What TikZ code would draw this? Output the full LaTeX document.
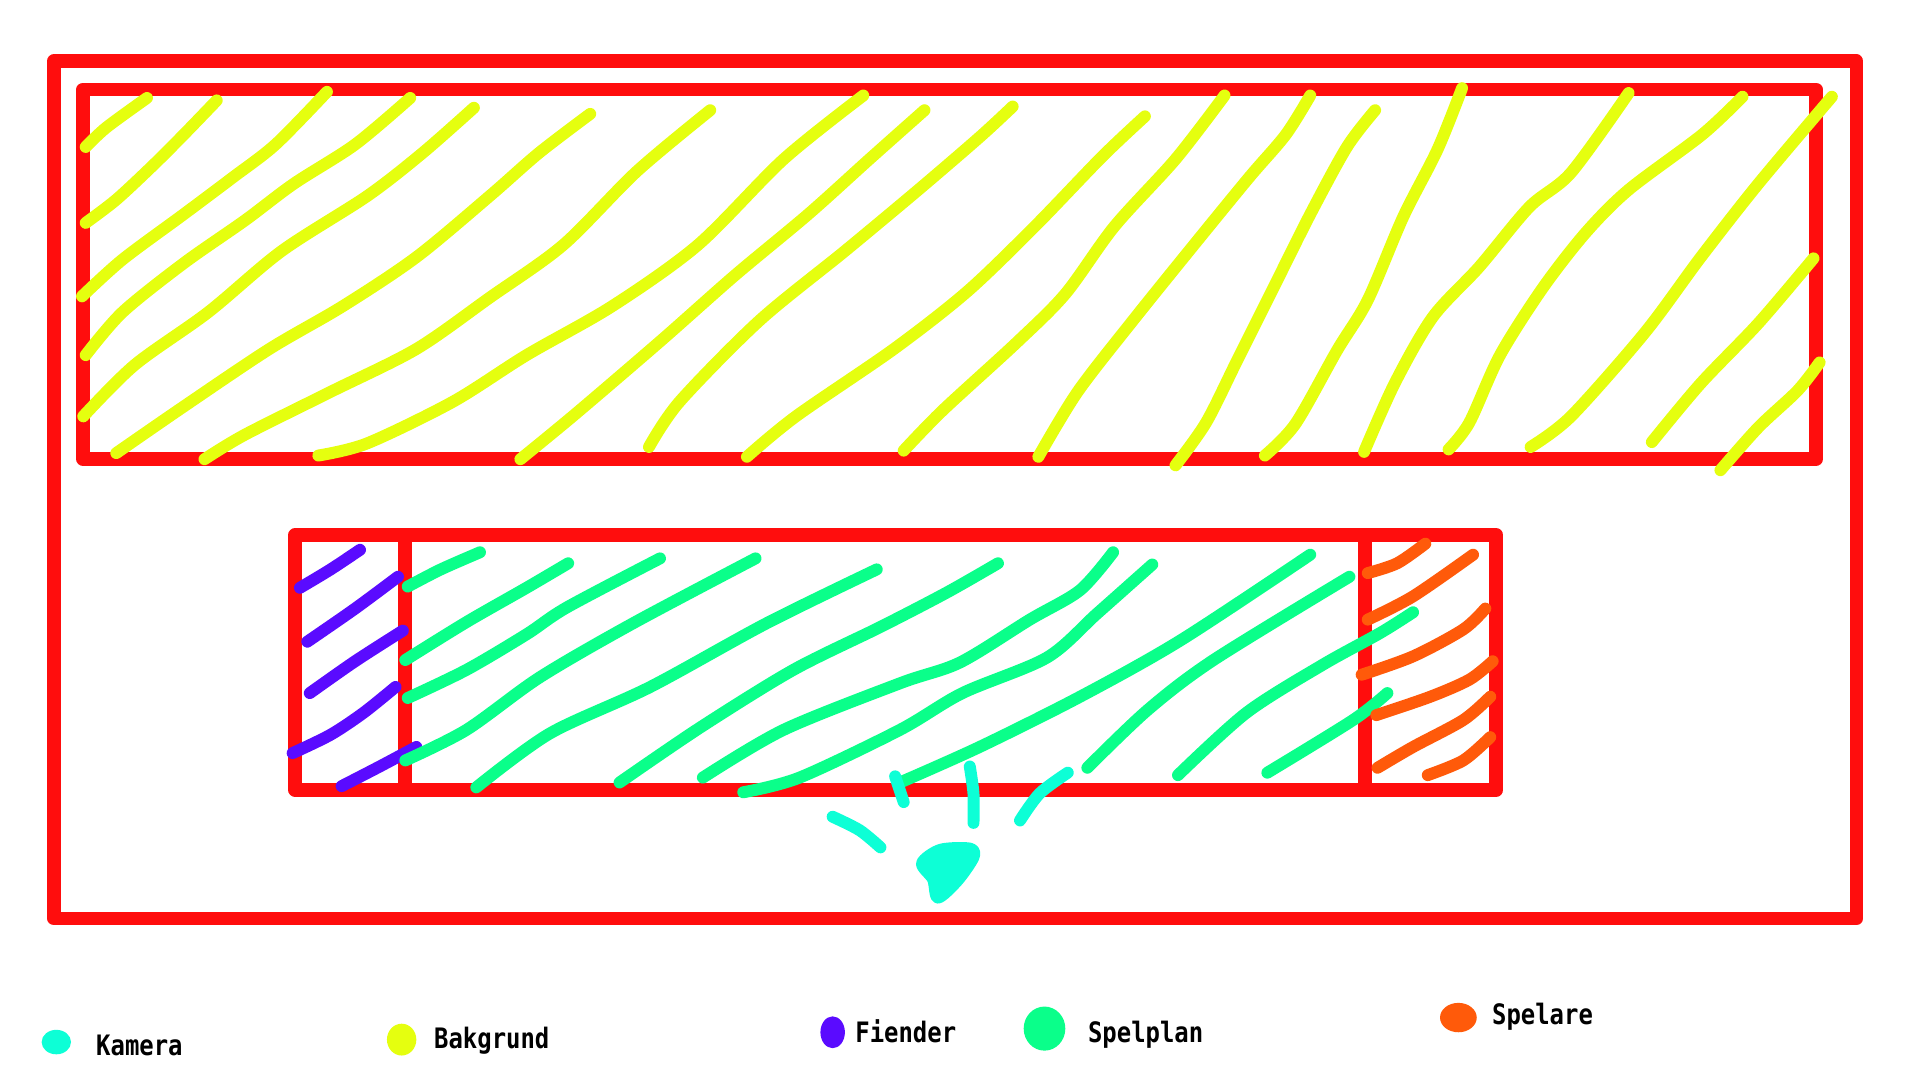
\documentclass[tikz,border=0pt]{standalone}
\usepackage{fontspec}
\newfontfamily\legendfont[FakeStretch=0.85]{DejaVu Sans Mono}
\usetikzlibrary{positioning}

\definecolor{skissRed}{HTML}{FF0D0D}
\definecolor{bgYellow}{HTML}{E5FF0F}
\definecolor{camCyan}{HTML}{0DFFD6}
\definecolor{boardGreen}{HTML}{0AFF8A}
\definecolor{foePurple}{HTML}{5A0BFF}
\definecolor{playerOrange}{HTML}{FF5A0A}

\begin{document}
\begin{tikzpicture}[x=0.012245cm, y=-0.012245cm,
  frame/.style={draw=skissRed, line width=3.9pt, line cap=round, line join=round},
  hatch/.style={line width=3.4pt, line cap=round, line join=round},
  legend/.style={anchor=base west, inner sep=0pt,
    font=\legendfont\bfseries\fontsize{8pt}{10pt}\selectfont}]
  \useasboundingbox (0,0) rectangle (1568,882);

  % frames
  \draw [frame] (44,50) rectangle (1516,750);
  \draw [frame] (68,73) rectangle (1483,375);
  \draw [frame] (241,437) rectangle (1222,645);
  \draw [frame] (331,440) -- (331,645);
  \draw [frame] (1115,440) -- (1115,645);

  % bakgrund
  \begin{scope}[hatch, draw=bgYellow]
    \draw plot[smooth] coordinates {(70,120) (87,104) (120,80)};
    \draw plot[smooth] coordinates {(70,182) (95,163) (125,135) (150,110) (177,82)};
    \draw plot[smooth] coordinates {(67,242) (100,212) (150,175) (190,145) (225,118) (267,75)};
    \draw plot[smooth] coordinates {(70,290) (100,255) (150,215) (200,180) (240,150) (290,118) (335,80)};
    \draw plot[smooth] coordinates {(68,340) (110,298) (170,255) (230,205) (300,160) (345,125) (387,88)};
    \draw plot[smooth] coordinates {(95,370) (150,332) (220,285) (280,250) (340,210) (400,160) (440,125) (482,93)};
    \draw plot[smooth] coordinates {(167,375) (200,355) (270,320) (340,285) (400,243) (460,200) (520,140) (580,90)};
    \draw plot[smooth] coordinates {(260,372) (300,362) (370,328) (430,290) (500,250) (570,200) (640,130) (705,78)};
    \draw plot[smooth] coordinates {(425,375) (470,338) (540,278) (600,225) (660,175) (710,130) (755,90)};
    \draw plot[smooth] coordinates {(530,365) (555,328) (620,262) (690,205) (750,155) (800,112) (827,87)};
    \draw plot[smooth] coordinates {(610,373) (650,340) (730,285) (790,238) (845,185) (900,128) (935,95)};
    \draw plot[smooth] coordinates {(738,368) (770,335) (830,280) (870,240) (910,185) (960,130) (1000,78)};
    \draw plot[smooth] coordinates {(848,373) (880,320) (925,262) (975,200) (1020,145) (1050,110) (1070,78)};
    \draw plot[smooth] coordinates {(960,380) (985,345) (1010,295) (1040,235) (1070,175) (1100,120) (1123,90)};
    \draw plot[smooth] coordinates {(1033,372) (1058,346) (1092,286) (1117,245) (1146,177) (1174,122) (1194,72)};
    \draw plot[smooth] coordinates {(1114,369) (1139,313) (1170,259) (1208,218) (1249,169) (1283,141) (1330,76)};
    \draw plot[smooth] coordinates {(1183,367) (1200,345) (1225,290) (1260,235) (1295,190) (1330,155) (1390,110) (1423,79)};
    \draw plot[smooth] coordinates {(1250,365) (1283,340) (1343,272) (1389,210) (1436,150) (1496,79)};
    \draw plot[smooth] coordinates {(1349,361) (1389,313) (1436,264) (1481,211)};
    \draw plot[smooth] coordinates {(1405,384) (1436,349) (1468,319) (1486,296)};
  \end{scope}

  % fiender
  \begin{scope}[hatch, draw=foePurple]
    \draw plot[smooth] coordinates {(245,480) (270,465) (294,449)};
    \draw plot[smooth] coordinates {(251,524) (290,497) (325,471)};
    \draw plot[smooth] coordinates {(253,566) (290,540) (329,515)};
    \draw plot[smooth] coordinates {(239,615) (270,600) (297,582) (323,561)};
    \draw plot[smooth] coordinates {(279,642) (310,626) (340,610)};
  \end{scope}

  % spelplan
  \begin{scope}[hatch, draw=boardGreen]
    \draw plot[smooth] coordinates {(333,479) (360,465) (392,451)};
    \draw plot[smooth] coordinates {(331,539) (381,508) (430,480) (464,460)};
    \draw plot[smooth] coordinates {(333,570) (381,547) (430,518) (463,496) (539,456)};
    \draw plot[smooth] coordinates {(331,621) (381,596) (441,553) (517,509) (617,456)};
    \draw plot[smooth] coordinates {(389,643) (449,599) (531,561) (626,509) (716,465)};
    \draw plot[smooth] coordinates {(506,639) (572,594) (648,547) (719,512) (773,484) (815,460)};
    \draw plot[smooth] coordinates {(574,635) (640,596) (735,558) (784,541) (841,506) (882,482) (909,451)};
    \draw plot[smooth] coordinates {(607,647) (653,635) (735,596) (786,566) (855,537) (896,501) (941,461)};
    \draw plot[smooth] coordinates {(735,639) (800,610) (882,569) (964,523) (1070,453)};
    \draw plot[smooth] coordinates {(888,627) (937,580) (991,539) (1102,471)};
    \draw plot[smooth] coordinates {(962,633) (1018,582) (1080,543) (1127,517) (1154,500)};
    \draw plot[smooth] coordinates {(1035,631) (1105,588) (1133,566)};
  \end{scope}

  % spelare
  \begin{scope}[hatch, draw=playerOrange]
    \draw plot[smooth] coordinates {(1117,468) (1141,460) (1164,444)};
    \draw plot[smooth] coordinates {(1117,506) (1154,487) (1203,453)};
    \draw plot[smooth] coordinates {(1112,551) (1154,536) (1195,514) (1213,497)};
    \draw plot[smooth] coordinates {(1124,584) (1168,569) (1200,555) (1219,540)};
    \draw plot[smooth] coordinates {(1125,627) (1154,610) (1195,588) (1217,569)};
    \draw plot[smooth] coordinates {(1166,633) (1195,621) (1217,602)};
  \end{scope}

  % kamera
  \begin{scope}[hatch, draw=camCyan]
    \draw (731,634) -- (738,655);
    \draw plot[smooth] coordinates {(792,626) (795,648) (795,672)};
    \draw plot[smooth] coordinates {(833,670) (849,648) (872,631)};
    \draw plot[smooth] coordinates {(680,667) (702,678) (719,692)};
    \filldraw [fill=camCyan] plot[smooth cycle] coordinates {(753,705) (768,694) (792,693) (795,700) (782,719) (766,733) (762,718)};
  \end{scope}

  % legend
  \fill [camCyan] (46,851) ellipse (12 and 10);
  \node (kamera) [legend] at (78,862) {Kamera};
  \fill [bgYellow] (328,849) ellipse (12 and 13);
  \node (bakgrund) [legend] at (354,856) {Bakgrund};
  \fill [foePurple] (680,843) ellipse (10 and 13);
  \node (fiender) [legend] at (698,851) {Fiender};
  \fill [boardGreen] (853,840) ellipse (17 and 18);
  \node (spelplan) [legend] at (888,851) {Spelplan};
  \fill [playerOrange] (1191,831) ellipse (15 and 12);
  \node (spelare) [legend] at (1218,837) {Spelare};
\end{tikzpicture}
\end{document}
